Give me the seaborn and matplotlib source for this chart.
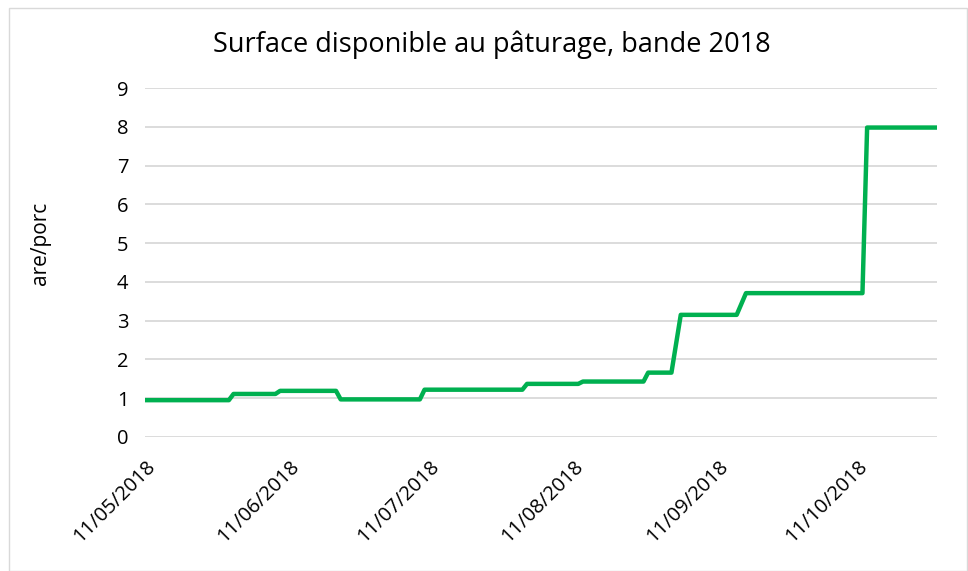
import matplotlib
matplotlib.use("Agg")
import matplotlib.pyplot as plt
import matplotlib.dates as mdates
import seaborn as sns
import pandas as pd

dates = ["2018-05-11", "2018-05-29", "2018-05-30", "2018-06-08", "2018-06-09",
         "2018-06-21", "2018-06-22", "2018-07-09", "2018-07-10", "2018-07-31",
         "2018-08-01", "2018-08-12", "2018-08-13", "2018-08-26", "2018-08-27",
         "2018-09-01", "2018-09-03", "2018-09-15", "2018-09-17", "2018-10-12",
         "2018-10-13", "2018-10-28"]
values = [0.95, 0.95, 1.11, 1.11, 1.19,
          1.19, 0.97, 0.97, 1.22, 1.22,
          1.37, 1.37, 1.43, 1.43, 1.66,
          1.66, 3.15, 3.15, 3.71, 3.71,
          7.98, 7.98]
tick_dates = ["2018-05-11", "2018-06-11", "2018-07-11", "2018-08-11", "2018-09-11", "2018-10-11"]
y_ticks = list(range(0, 10))

df = pd.DataFrame({"date": pd.to_datetime(dates), "value": values})

sns.set_theme(style="white")
plt.rcParams["font.family"] = ["Open Sans", "DejaVu Sans"]

fig = plt.figure(figsize=(9.68, 5.71), dpi=100)
ax = fig.add_axes([145 / 968, 1 - 437 / 571, (937 - 145) / 968, (437 - 88) / 571])

sns.lineplot(data=df, x="date", y="value", ax=ax, color="#00B050", linewidth=3.2,
             solid_joinstyle="round", solid_capstyle="round")

ax.set_ylim(0, 9)
ax.set_xlim(pd.Timestamp(dates[0]), pd.Timestamp(dates[-1]))
ax.set_yticks(y_ticks)
ax.set_xticks(pd.to_datetime(tick_dates))
ax.xaxis.set_major_formatter(mdates.DateFormatter("%d/%m/%Y"))
ax.grid(axis="y", color="#d9d9d9", linewidth=1.3)
ax.set_axisbelow(True)
for s in ax.spines.values():
    s.set_visible(False)
ax.tick_params(axis="both", length=0, labelsize=14.5, colors="#000000")
ax.tick_params(axis="y", pad=12)
ax.tick_params(axis="x", pad=14)
plt.setp(ax.get_xticklabels(), rotation=45, ha="right", rotation_mode="anchor")
ax.set_xlabel("")
ax.set_ylabel("")

fig.text(492 / 968, 1 - 45 / 571, "Surface disponible au pâturage, bande 2018",
         fontsize=19.5, ha="center", va="center", color="#000000")
fig.text(40 / 968, 1 - 243 / 571, "are/porc", fontsize=15, rotation=90,
         ha="center", va="center", color="#000000")

fig.patches.append(plt.Rectangle((9 / 968, 0), 1 - 9 / 968 - 0.001, 1 - 8 / 571,
                                 transform=fig.transFigure, fill=False,
                                 edgecolor="#d9d9d9", linewidth=1))

fig.savefig("out.png", dpi=100)
